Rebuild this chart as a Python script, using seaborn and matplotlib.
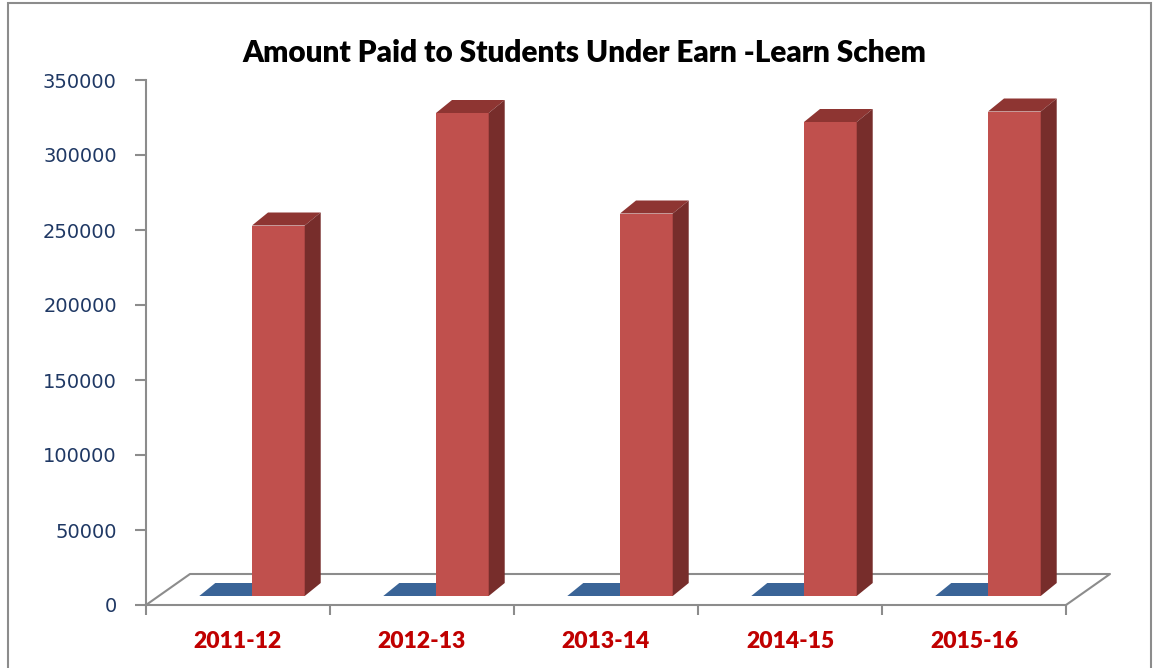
import pandas as pd
import seaborn as sns
import matplotlib.pyplot as plt
from matplotlib.patches import Polygon, Rectangle
from matplotlib.lines import Line2D
from matplotlib.transforms import IdentityTransform, ScaledTranslation

# data
years = ["2011-12", "2012-13", "2013-14", "2014-15", "2015-16"]
series_blue = [0, 0, 0, 0, 0]
series_red = [247000, 322000, 255000, 316000, 323000]
y_ticks = [0, 50000, 100000, 150000, 200000, 250000, 300000, 350000]

BLUE_FRONT = "#4F81BD"
BLUE_TOP = "#3A6497"
RED_FRONT = "#C0504D"
RED_TOP = "#8E3532"
RED_SIDE = "#772D2B"
AXIS_GRAY = "#8C8C8C"

df = pd.DataFrame({
    "year": years * 2,
    "series": ["s1"] * len(years) + ["s2"] * len(years),
    "amount": series_blue + series_red,
})

sns.set_theme(style="white")
plt.rcParams["font.family"] = ["Lato", "DejaVu Sans"]

W, H = 1159, 668
fig = plt.figure(figsize=(W / 100, H / 100), dpi=100)
ax = fig.add_axes([146 / W, (H - 605) / H, 920 / W, 525 / H])

sns.barplot(data=df, x="year", y="amount", hue="series",
            palette=[BLUE_FRONT, RED_FRONT], width=0.573, saturation=1,
            legend=False, ax=ax)
ax.set_xlim(-0.5, 4.5)
ax.set_ylim(0, 350000)
ax.set_xlabel("")
ax.set_ylabel("")

# axes styling
for s in ["top", "right"]:
    ax.spines[s].set_visible(False)
for s in ["left", "bottom"]:
    ax.spines[s].set_color(AXIS_GRAY)
    ax.spines[s].set_linewidth(1.5)

ax.set_yticks(y_ticks)
ax.set_yticklabels([str(v) for v in y_ticks], color="#1F3864", fontsize=14,
                   family=["DejaVu Sans"])
ax.tick_params(axis="y", direction="out", length=8, width=1.5,
               color=AXIS_GRAY, pad=13, left=True)
ax.set_xticks(range(len(years)))
ax.set_xticklabels(years, color="#C00000", fontsize=16.5, fontweight="heavy")
ax.tick_params(axis="x", which="major", length=0, pad=19)
ax.set_xticks([i - 0.5 for i in range(len(years) + 1)], minor=True)
ax.tick_params(axis="x", which="minor", direction="out", length=7, width=1.5,
               color=AXIS_GRAY, bottom=True)

# pseudo 3d: shift bars onto the floor and add top / side faces
fig.canvas.draw()
shift_x, shift_y = 14, 9      # pixels from front edge of floor
depth_x, depth_y = 16, 13     # bar depth in pixels
floor_x, floor_y = 44, 31     # floor depth in pixels

shift = ScaledTranslation(shift_x / 100, shift_y / 100, fig.dpi_scale_trans)
bars = [p for p in ax.patches if isinstance(p, Rectangle)]
for p in bars:
    x0, w, h = p.get_x(), p.get_width(), p.get_height()
    (X0, Y0), (X1, Y1) = ax.transData.transform([(x0, 0), (x0 + w, h)])
    X0 += shift_x; X1 += shift_x; Y0 += shift_y; Y1 += shift_y
    p.set_transform(ax.transData + shift)
    p.set_clip_on(False)
    p.set_linewidth(0)
    p.set_zorder(2)
    is_red = p.get_facecolor()[0] > 0.6
    top = Polygon([(X0, Y1), (X1, Y1), (X1 + depth_x, Y1 + depth_y),
                   (X0 + depth_x, Y1 + depth_y)], closed=True,
                  facecolor=RED_TOP if is_red else BLUE_TOP, edgecolor="none",
                  transform=IdentityTransform(), clip_on=False,
                  zorder=2 if is_red else 1)
    ax.add_artist(top)
    if is_red:
        side = Polygon([(X1, Y0), (X1, Y1), (X1 + depth_x, Y1 + depth_y),
                        (X1 + depth_x, Y0 + depth_y)], closed=True,
                       facecolor=RED_SIDE, edgecolor="none",
                       transform=IdentityTransform(), clip_on=False, zorder=2)
        ax.add_artist(side)

# floor outline
(FX0, FY), (FX1, _) = ax.transData.transform([(-0.5, 0), (4.5, 0)])
fx = [FX0, FX0 + floor_x, FX1 + floor_x, FX1]
fy = [FY, FY + floor_y, FY + floor_y, FY]
ax.add_artist(Line2D(fx, fy, color=AXIS_GRAY, linewidth=1.5,
                     transform=IdentityTransform(), clip_on=False, zorder=0.5))

# title
fig.text(0.504, 1 - 62 / H, "Amount Paid to Students Under Earn -Learn Schem",
         ha="center", va="baseline", fontsize=21.4, fontweight="heavy",
         color="black")

# chart border
fig.add_artist(Rectangle((8 / W, -0.02), (1151 - 8) / W, 1.02 - 3 / H,
                         transform=fig.transFigure, fill=False,
                         edgecolor="#8C8C8C", linewidth=1.5))

fig.savefig("out.png", dpi=100)
